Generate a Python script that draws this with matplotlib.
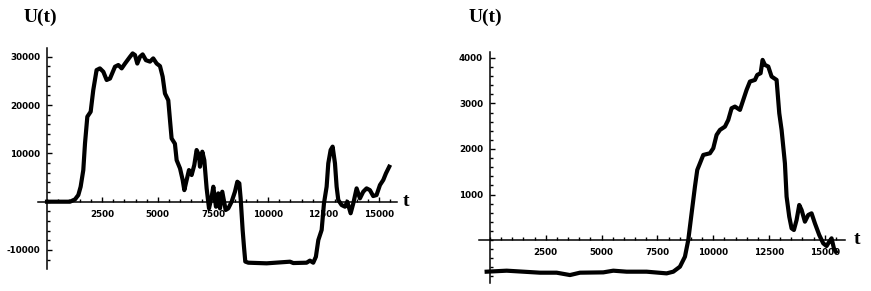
import matplotlib
matplotlib.use("Agg")
import matplotlib.pyplot as plt
from matplotlib.ticker import MultipleLocator

# ------------------------------------------
# data
# ------------------------------------------
left_t = [0, 1040, 1265, 1415, 1520, 1640, 1717, 1822, 1973, 2090, 2240, 2390,
          2545, 2695, 2846, 3072, 3223, 3373, 3524, 3750, 3870, 3975, 4080, 4200,
          4322, 4470, 4653, 4800, 4955, 5105, 5225, 5330, 5480, 5557, 5630, 5780,
          5858, 6010, 6130, 6205, 6310, 6415, 6535, 6656, 6760, 6867, 6912, 7017,
          7108, 7213, 7320, 7440, 7515, 7635, 7740, 7816, 7920, 8072, 8192, 8343,
          8493, 8600, 8690, 8750, 8840, 8900, 8960, 9096, 9925, 10980, 11130, 11730,
          11880, 12030, 12150, 12260, 12410, 12515, 12635, 12710, 12816, 12906, 13012,
          13087, 13162, 13313, 13464, 13570, 13720, 13840, 13990, 14140, 14290, 14440,
          14590, 14740, 14890, 15045, 15195, 15315, 15465]
left_u = [0, 0, 480, 1380, 3100, 6550, 12075, 17600, 18630, 23100, 27250, 27600,
          26900, 25200, 25500, 27950, 28300, 27600, 28600, 30000, 30700, 30360, 28600, 30000,
          30500, 29300, 29000, 29670, 28600, 28080, 25900, 22400, 21000, 16900, 13100, 12000,
          8600, 6900, 4500, 2400, 4500, 6550, 5520, 7600, 10700, 9660, 7250, 10350,
          8600, 2760, -1380, 1035, 3100, -1035, 1725, -1380, 2070, -1725, -1380, 0,
          2070, 4140, 3800, 690, -5860, -9300, -12400, -12630, -12760, -12420, -12700, -12630,
          -12200, -12630, -11400, -7940, -5860, -345, 3100, 7940, 10700, 11400, 7940,
          3100, 345, -690, -1035, 0, -2400, -345, 2760, 690, 2070, 2760,
          2400, 1170, 1380, 3450, 4500, 5860, 7250]

right_t = [-150, 746, 1493, 2240, 2986, 3583, 4030, 5076, 5524, 6121, 7017, 7913,
           8212, 8510, 8734, 8883, 9032, 9182, 9286, 9406, 9555, 9854, 10003, 10152,
           10302, 10526, 10675, 10824, 10974, 11198, 11347, 11496, 11646, 11870, 11974,
           12124, 12213, 12318, 12467, 12616, 12840, 12960, 13064, 13213, 13288, 13407,
           13512, 13616, 13736, 13855, 13960, 14109, 14258, 14407, 14557, 14751, 14930,
           15080, 15199, 15303, 15408, 15497]
right_u = [-696, -674, -696, -718, -718, -770, -718, -711, -674, -696, -696, -733,
           -696, -586, -366, 0, 586, 1173, 1540, 1686, 1869, 1906, 2016, 2309,
           2419, 2492, 2639, 2895, 2932, 2859, 3079, 3299, 3482, 3518, 3628,
           3665, 3958, 3848, 3812, 3592, 3518, 2785, 2419, 1686, 953, 513,
           257, 220, 440, 770, 660, 403, 550, 586, 366, 110, -73,
           -132, -37, 37, -183, -257]

t_ticks = [2500, 5000, 7500, 10000, 12500, 15000]
left_u_ticks = [-10000, 10000, 20000, 30000]
right_u_ticks = [1000, 2000, 3000, 4000]

W, H = 871, 291
LABEL_FONT = dict(family="DejaVu Sans", weight="bold", size=6.3)


def setup_axes(ax, xlim, ylim, yticks, yminor):
    ax.set_xlim(*xlim)
    ax.set_ylim(*ylim)
    for side in ("top", "right"):
        ax.spines[side].set_visible(False)
    ax.spines["left"].set_position(("data", 0))
    ax.spines["bottom"].set_position(("data", 0))
    for side in ("left", "bottom"):
        ax.spines[side].set_linewidth(1.1)
    ax.set_facecolor("none")

    ax.set_xticks(t_ticks)
    ax.set_xticklabels([str(v) for v in t_ticks], fontdict=LABEL_FONT)
    ax.xaxis.set_minor_locator(MultipleLocator(500))
    ax.set_yticks(yticks)
    ax.set_yticklabels([str(v) for v in yticks], fontdict=LABEL_FONT)
    ax.yaxis.set_minor_locator(MultipleLocator(yminor))

    ax.tick_params(which="both", direction="in", width=1.0)
    ax.tick_params(which="major", length=3.5)
    ax.tick_params(which="minor", length=2.0)
    ax.tick_params(axis="x", which="major", pad=6)
    ax.tick_params(axis="y", which="major", pad=5)


fig = plt.figure(figsize=(W / 100, H / 100), dpi=100)

# left panel
ax1 = fig.add_axes([38 / W, (H - 269) / H, 359 / W, 221 / H])
setup_axes(ax1, (-407, 15815), (-13934, 31822), left_u_ticks, 2000)
ax1.plot(left_t, left_u, color="black", lw=3.0, solid_joinstyle="round")

# right panel
ax2 = fig.add_axes([479 / W, (H - 282.7) / H, 366 / W, 231 / H])
setup_axes(ax2, (-493, 15905), (-938, 4138), right_u_ticks, 200)
ax2.plot(right_t, right_u, color="black", lw=3.0, solid_joinstyle="round")

# axis captions
cap = dict(family="Liberation Serif", weight="bold", size=14, ha="center", va="center")
fig.text(40 / W, 1 - 17 / H, "U(t)", **cap)
fig.text(485 / W, 1 - 17 / H, "U(t)", **cap)
fig.text(406 / W, 1 - 201 / H, "t", **cap)
fig.text(857 / W, 1 - 239 / H, "t", **cap)

fig.savefig("out.png", dpi=100, facecolor="white")
